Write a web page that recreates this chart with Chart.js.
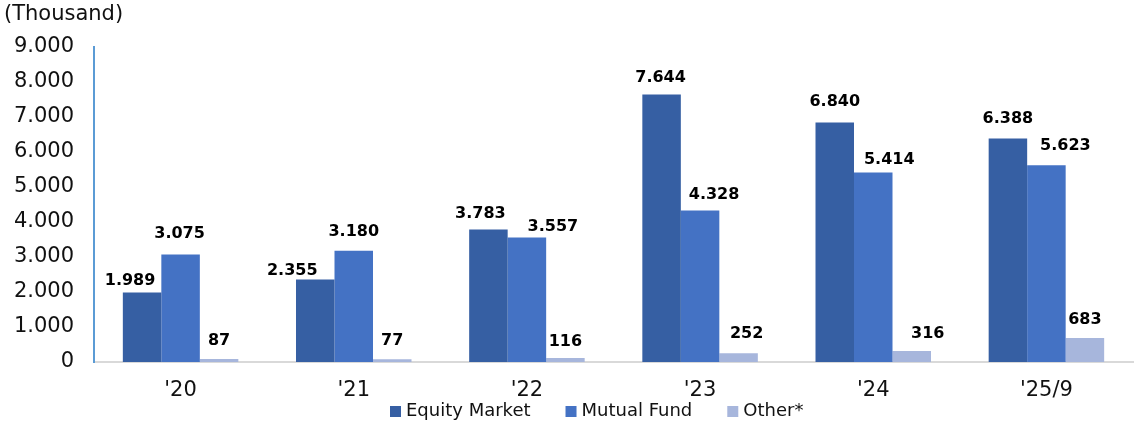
<!DOCTYPE html>
<html>
<head>
<meta charset="utf-8">
<script src="https://cdn.jsdelivr.net/npm/chart.js@4.4.1/dist/chart.umd.min.js"></script>
<style>
  html, body { margin: 0; padding: 0; background: #ffffff; }
  #wrap { width: 1137px; height: 421px; position: relative; }
</style>
</head>
<body>
<div id="wrap"><canvas id="c" width="1137" height="421"></canvas></div>
<script>
// ---- data ----
const categories = ["'20", "'21", "'22", "'23", "'24", "'25/9"];
const equityMarket = [1989, 2355, 3783, 7644, 6840, 6388];
const mutualFund = [3075, 3180, 3557, 4328, 5414, 5623];
const other = [87, 77, 116, 252, 316, 683];
const seriesNames = ["Equity Market", "Mutual Fund", "Other*"];
const yTicks = [0, 1000, 2000, 3000, 4000, 5000, 6000, 7000, 8000, 9000];
const unitTitle = "(Thousand)";

// ---- style ----
const COLORS = ["#365FA3", "#4472C4", "#A7B6DC"];
const FONT = "'DejaVu Sans', Verdana, sans-serif";

function fmt(v) {
  return String(Math.round(v)).replace(/\B(?=(\d{3})+(?!\d))/g, ".");
}

// label nudges (dx, dy in px) per dataset / category, mimicking the manual placement
const labelNudge = [
  [[-12, 7], [-23, 9], [-8, 2], [-1, 2], [0, -3], [0, -1]],
  [[-1, -2], [0, -1], [26, 7], [14, 2], [16, 5], [19, -1]],
  [[0, 0], [0, 0], [0, 2], [8, -1], [16, 1], [0, 0]]
];

const overlay = {
  id: 'overlay',
  afterDatasetsDraw(chart) {
    const ctx = chart.ctx;
    ctx.save();
    // value labels
    ctx.font = "bold 16px " + FONT;
    ctx.fillStyle = "#000";
    ctx.textAlign = "center";
    ctx.textBaseline = "alphabetic";
    chart.data.datasets.forEach((ds, di) => {
      const meta = chart.getDatasetMeta(di);
      meta.data.forEach((bar, i) => {
        const n = labelNudge[di][i];
        ctx.fillText(fmt(ds.data[i]), bar.x + n[0], bar.y - 14 + n[1]);
      });
    });
    // unit title
    ctx.font = "21px " + FONT;
    ctx.textAlign = "left";
    ctx.textBaseline = "middle";
    ctx.fillStyle = "#111";
    ctx.fillText(unitTitle, 4, 15);
    // legend
    ctx.font = "18px " + FONT;
    let x = 390;
    const yMid = 411.5;
    chart.data.datasets.forEach((ds, di) => {
      ctx.fillStyle = ds.backgroundColor;
      ctx.fillRect(x, yMid - 5.5, 11, 11);
      ctx.fillStyle = "#111";
      ctx.fillText(ds.label, x + 16, yMid);
      x += 16 + ctx.measureText(ds.label).width + 35;
    });
    ctx.restore();
  }
};

new Chart(document.getElementById('c'), {
  type: 'bar',
  data: {
    labels: categories,
    datasets: [
      { label: seriesNames[0], data: equityMarket, backgroundColor: COLORS[0] },
      { label: seriesNames[1], data: mutualFund, backgroundColor: COLORS[1] },
      { label: seriesNames[2], data: other, backgroundColor: COLORS[2] }
    ]
  },
  options: {
    responsive: false,
    devicePixelRatio: 1,
    animation: false,
    layout: { padding: { top: 47, right: 4, left: 0, bottom: 0 } },
    datasets: { bar: { barPercentage: 1.0, categoryPercentage: 0.667 } },
    plugins: {
      legend: { display: false },
      tooltip: { enabled: false },
      title: { display: false }
    },
    scales: {
      x: {
        grid: { display: false, drawTicks: false },
        border: { display: true, color: "#D9D9D9", width: 2 },
        ticks: { color: "#111", font: { family: FONT, size: 21 }, padding: 16, maxRotation: 0 },
        afterFit(scale) { scale.height = 59; }
      },
      y: {
        min: 0,
        max: 9000,
        grid: { display: false, drawTicks: false },
        border: { display: true, color: "#5B9BD5", width: 2 },
        afterBuildTicks(scale) { scale.ticks = yTicks.map(v => ({ value: v })); },
        ticks: {
          color: "#111",
          font: { family: FONT, size: 21 },
          padding: 20,
          callback: (v) => fmt(v)
        },
        afterFit(scale) { scale.width = 94; }
      }
    }
  },
  plugins: [overlay]
});
</script>
</body>
</html>
